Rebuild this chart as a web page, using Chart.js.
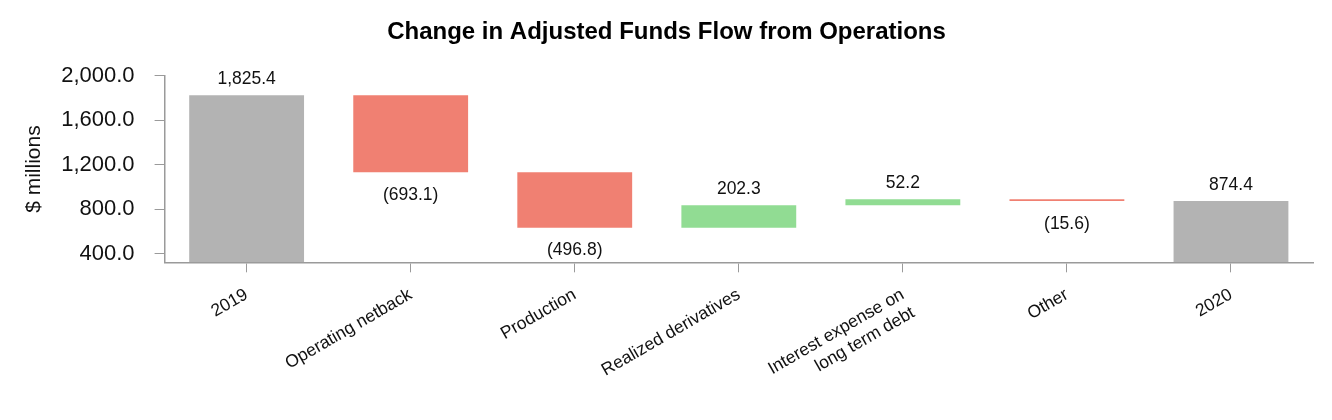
<!DOCTYPE html>
<html>
<head>
<meta charset="utf-8">
<script src="https://cdn.jsdelivr.net/npm/chart.js@4"></script>
<style>
  html, body { margin: 0; padding: 0; background: #fff; }
  #wrap { width: 1332px; height: 420px; }
</style>
</head>
<body>
<div id="wrap"><canvas id="chart" width="1332" height="420"></canvas></div>
<script>
// ── DATA ──────────────────────────────────────────────────────────────────────
const categories = [
  '2019',
  'Operating netback',
  'Production',
  'Realized derivatives',
  ['Interest expense on', 'long term debt'],
  'Other',
  '2020'
];
const changes = [1825.4, -693.1, -496.8, 202.3, 52.2, -15.6, 874.4];
const isTotal = [true, false, false, false, false, false, true];
const yTicks  = [400, 800, 1200, 1600, 2000];

// ── STYLE ─────────────────────────────────────────────────────────────────────
const FONT = "'Liberation Sans', Arial, Helvetica, sans-serif";
const GREY = '#b3b3b3', RED = '#f08072', GREEN = '#91dc93', AXIS = '#9a9a9a';
const Y_MIN = 324, Y_MAX = 2000;

// waterfall ranges built from the changes
let running = 0;
const ranges = changes.map((v, i) => {
  if (isTotal[i]) { running = v; return [Y_MIN, v]; }
  const start = running;
  running += v;
  return [start, running];
});
const colors = changes.map((v, i) => isTotal[i] ? GREY : (v < 0 ? RED : GREEN));

const fmt = v => Math.abs(v).toLocaleString('en-US', { minimumFractionDigits: 1, maximumFractionDigits: 1 });

// ── VALUE LABELS ──────────────────────────────────────────────────────────────
const valueLabels = {
  id: 'valueLabels',
  afterDatasetsDraw(chart) {
    const { ctx } = chart;
    const y = chart.scales.y;
    const meta = chart.getDatasetMeta(0);
    ctx.save();
    ctx.font = '17.5px ' + FONT;
    ctx.fillStyle = '#111';
    ctx.textAlign = 'center';
    ctx.textBaseline = 'middle';
    meta.data.forEach((bar, i) => {
      const v = changes[i];
      const [a, b] = ranges[i];
      if (v >= 0) {
        ctx.fillText(fmt(v), bar.x, y.getPixelForValue(Math.max(a, b)) - 16);
      } else {
        ctx.fillText('(' + fmt(v) + ')', bar.x, y.getPixelForValue(Math.min(a, b)) + 23);
      }
    });
    ctx.restore();
  }
};

// ── CHART ─────────────────────────────────────────────────────────────────────
new Chart(document.getElementById('chart'), {
  type: 'bar',
  data: {
    labels: categories,
    datasets: [{
      data: ranges,
      backgroundColor: colors,
      borderWidth: 0,
      barPercentage: 0.7,
      categoryPercentage: 1.0
    }]
  },
  options: {
    responsive: false,
    animation: false,
    layout: { padding: { left: 20, right: 19, top: 0, bottom: 9 } },
    plugins: {
      legend: { display: false },
      tooltip: { enabled: false },
      title: {
        display: true,
        text: 'Change in Adjusted Funds Flow from Operations',
        color: '#000',
        font: { family: FONT, size: 24, weight: 'bold' },
        padding: { top: 18, bottom: 29 }
      }
    },
    scales: {
      x: {
        grid: { drawOnChartArea: false, drawTicks: true, tickLength: 10, color: AXIS, offset: false },
        border: { color: AXIS, width: 1.5 },
        ticks: {
          color: '#111',
          font: { family: FONT, size: 17.5 },
          minRotation: 30,
          maxRotation: 30,
          autoSkip: false,
          padding: 12
        }
      },
      y: {
        min: Y_MIN,
        max: Y_MAX,
        afterBuildTicks: scale => { scale.ticks = yTicks.map(v => ({ value: v })); },
        grid: { drawOnChartArea: false, drawTicks: true, tickLength: 10, color: AXIS },
        border: { color: AXIS, width: 1.5 },
        ticks: {
          color: '#111',
          font: { family: FONT, size: 22 },
          padding: 20,
          callback: v => v.toLocaleString('en-US', { minimumFractionDigits: 1, maximumFractionDigits: 1 })
        },
        title: {
          display: true,
          text: '$ millions',
          color: '#111',
          font: { family: FONT, size: 21 },
          padding: { top: 2, bottom: -6 }
        }
      }
    }
  },
  plugins: [valueLabels]
});
</script>
</body>
</html>
